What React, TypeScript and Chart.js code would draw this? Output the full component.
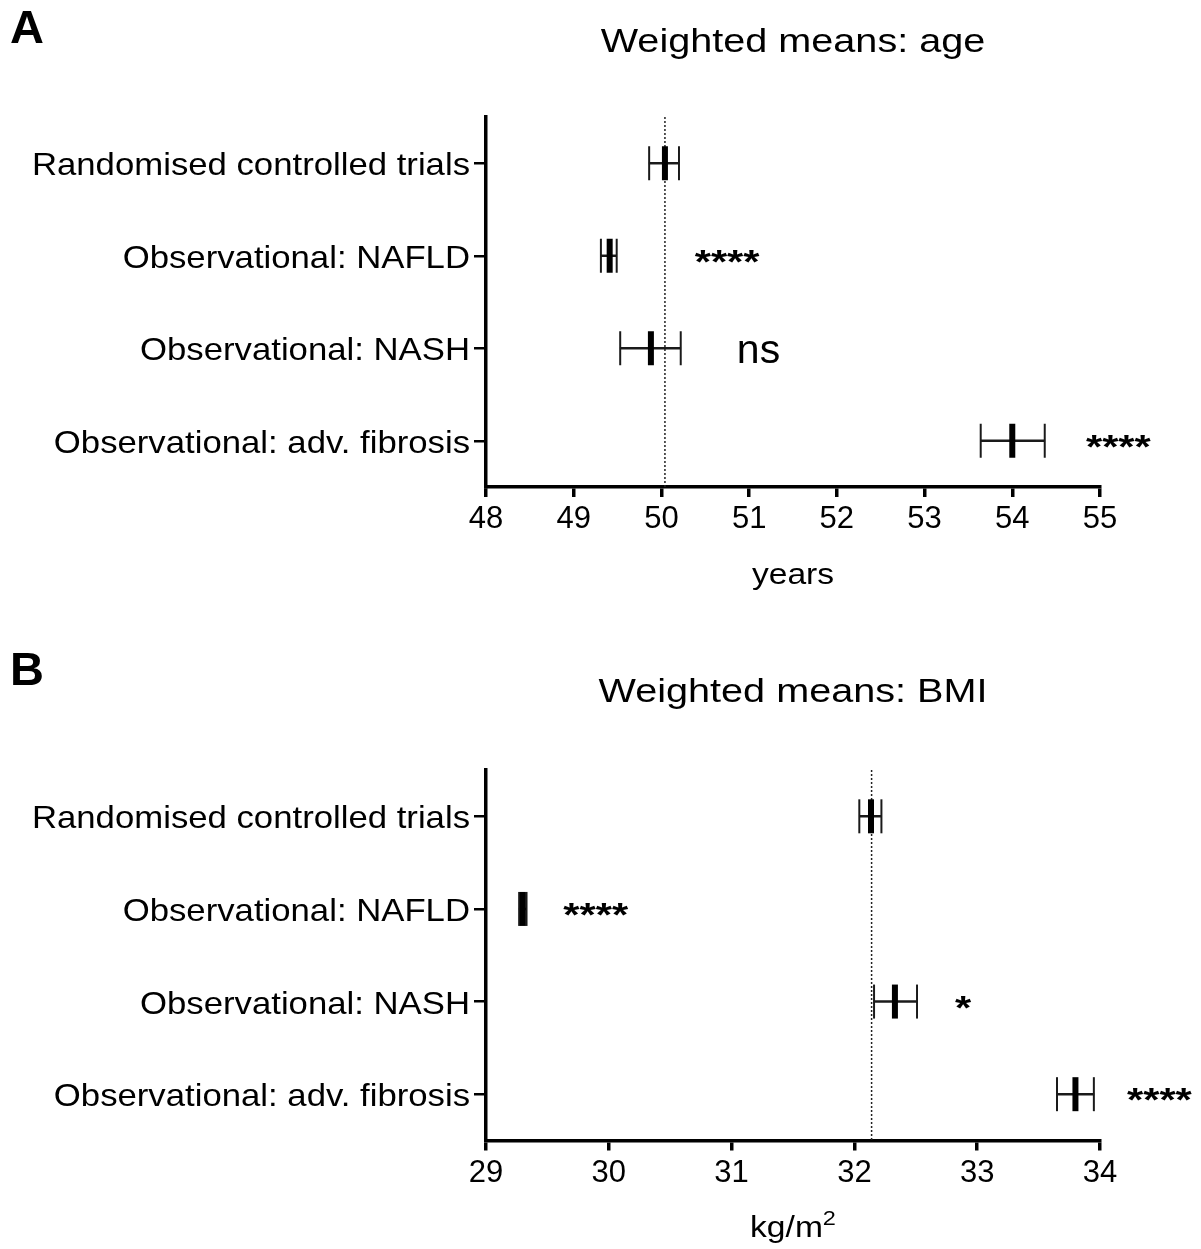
import { useEffect, useRef } from 'react';
import { Chart, registerables } from 'chart.js';

Chart.register(...registerables);

const FONT = '"Liberation Sans", Arial, Helvetica, sans-serif';

// Shared categories (top to bottom)
const categories = [
  'Randomised controlled trials',
  'Observational: NAFLD',
  'Observational: NASH',
  'Observational: adv. fibrosis',
];

// Panel A: age (years)
const ageMean = [50.04, 49.41, 49.88, 54.0];
const ageLow = [49.86, 49.31, 49.53, 53.64];
const ageHigh = [50.2, 49.49, 50.22, 54.37];
const ageReference = 50.04;
const ageSignif = ['', '****', 'ns', '****'];
const ageSignifAt = [0, 50.38, 50.86, 54.84];
const ageTicks = [48, 49, 50, 51, 52, 53, 54, 55];

// Panel B: BMI (kg/m2)
const bmiMean = [32.135, 29.3, 32.33, 33.8];
const bmiLow = [32.04, 29.27, 32.16, 33.65];
const bmiHigh = [32.22, 29.33, 32.51, 33.95];
const bmiReference = 32.14;
const bmiSignif = ['', '****', '*', '****'];
const bmiSignifAt = [0, 29.63, 32.82, 34.22];
const bmiTicks = [29, 30, 31, 32, 33, 34];

type Panel = {
  letter: string;
  title: string;
  axisTitle: string;
  axisSup: string;
  mean: number[];
  low: number[];
  high: number[];
  reference: number;
  signif: string[];
  signifAt: number[];
  ticks: number[];
  height: number;
  padTop: number;
  xBox: number;
  titleBase: number;
  letterBase: number;
  axisTitleBase: number;
};

const panels: Panel[] = [
  {
    letter: 'A',
    title: 'Weighted means: age',
    axisTitle: 'years',
    axisSup: '',
    mean: ageMean,
    low: ageLow,
    high: ageHigh,
    reference: ageReference,
    signif: ageSignif,
    signifAt: ageSignifAt,
    ticks: ageTicks,
    height: 620,
    padTop: 117,
    xBox: 133,
    titleBase: 52,
    letterBase: 43,
    axisTitleBase: 584,
  },
  {
    letter: 'B',
    title: 'Weighted means: BMI',
    axisTitle: 'kg/m',
    axisSup: '2',
    mean: bmiMean,
    low: bmiLow,
    high: bmiHigh,
    reference: bmiReference,
    signif: bmiSignif,
    signifAt: bmiSignifAt,
    ticks: bmiTicks,
    height: 629,
    padTop: 150,
    xBox: 108.5,
    titleBase: 82,
    letterBase: 65,
    axisTitleBase: 617,
  },
];

function stretched(
  ctx: CanvasRenderingContext2D,
  text: string,
  x: number,
  y: number,
  font: string,
  sx: number,
  align: CanvasTextAlign,
) {
  ctx.save();
  ctx.translate(x, y);
  ctx.scale(sx, 1);
  ctx.font = font;
  ctx.textAlign = align;
  ctx.textBaseline = 'alphabetic';
  ctx.fillText(text, 0, 0);
  ctx.restore();
}

function buildChart(canvas: HTMLCanvasElement, p: Panel) {
  const deco = {
    id: 'deco',
    beforeDatasetsDraw(chart: any) {
      const { ctx, chartArea, scales } = chart;
      const x = scales.x.getPixelForValue(p.reference);
      ctx.save();
      ctx.strokeStyle = '#222';
      ctx.lineWidth = 1.5;
      ctx.setLineDash([2, 2]);
      ctx.beginPath();
      ctx.moveTo(x, chartArea.top);
      ctx.lineTo(x, chartArea.bottom);
      ctx.stroke();
      ctx.restore();
    },
    afterDraw(chart: any) {
      const { ctx, chartArea, scales } = chart;
      const xs = scales.x;
      const ys = scales.y;
      ctx.save();
      ctx.fillStyle = '#000';
      // panel letter
      ctx.font = `bold 47px ${FONT}`;
      ctx.textAlign = 'left';
      ctx.textBaseline = 'alphabetic';
      ctx.fillText(p.letter, 10, p.letterBase);
      // title
      const cx = (chartArea.left + chartArea.right) / 2;
      stretched(ctx, p.title, cx, p.titleBase, `34px ${FONT}`, 1.165, 'center');
      // category labels
      categories.forEach((c, i) => {
        const y = ys.getPixelForValue(i);
        stretched(ctx, c, ys.right - 16, y + 12, `32px ${FONT}`, 1.085, 'right');
      });
      // significance labels
      p.signif.forEach((s, i) => {
        if (!s) return;
        const x = xs.getPixelForValue(p.signifAt[i]);
        const y = ys.getPixelForValue(i);
        if (s === 'ns') {
          stretched(ctx, s, x, y + 15, `41px ${FONT}`, 1.0, 'left');
        } else {
          stretched(ctx, s, x, y + 17, `bold 33px ${FONT}`, 1.26, 'left');
        }
      });
      // axis title
      const sx = 1.12;
      ctx.font = `30px ${FONT}`;
      const wMain = ctx.measureText(p.axisTitle).width * sx;
      ctx.font = `21px ${FONT}`;
      const wSup = p.axisSup ? ctx.measureText(p.axisSup).width * sx : 0;
      const start = cx - (wMain + wSup) / 2;
      stretched(ctx, p.axisTitle, start, p.axisTitleBase, `30px ${FONT}`, sx, 'left');
      if (p.axisSup) {
        stretched(ctx, p.axisSup, start + wMain, p.axisTitleBase - 12, `21px ${FONT}`, sx, 'left');
      }
      ctx.restore();
    },
  };

  const pts = (vals: number[]) => vals.map((v, i) => ({ x: v, y: categories[i] as any }));

  return new Chart(canvas, {
    type: 'bar',
    data: {
      labels: categories,
      datasets: [
        {
          type: 'scatter',
          data: pts(p.mean),
          pointStyle: 'line',
          rotation: 90,
          radius: 17,
          borderWidth: 6,
          borderColor: '#000',
          backgroundColor: '#000',
          clip: false,
        } as any,
        {
          type: 'scatter',
          data: pts(p.low),
          pointStyle: 'line',
          rotation: 90,
          radius: 17,
          borderWidth: 2,
          borderColor: '#1a1a1a',
          backgroundColor: '#1a1a1a',
          clip: false,
        } as any,
        {
          type: 'scatter',
          data: pts(p.high),
          pointStyle: 'line',
          rotation: 90,
          radius: 17,
          borderWidth: 2,
          borderColor: '#1a1a1a',
          backgroundColor: '#1a1a1a',
          clip: false,
        } as any,
        {
          type: 'bar',
          data: p.low.map((l, i) => [l, p.high[i]]),
          backgroundColor: '#1a1a1a',
          borderWidth: 0,
          barThickness: 1.8,
        } as any,
      ],
    },
    options: {
      indexAxis: 'y',
      animation: false,
      responsive: false,
      events: [],
      layout: { padding: { left: 0, right: 101, top: p.padTop, bottom: 0 } },
      plugins: {
        legend: { display: false },
        tooltip: { enabled: false },
        title: { display: false },
      },
      scales: {
        x: {
          type: 'linear',
          min: p.ticks[0],
          max: p.ticks[p.ticks.length - 1],
          afterFit: (s: any) => {
            s.height = p.xBox;
          },
          ticks: {
            stepSize: 1,
            color: '#000',
            padding: 4,
            font: { family: FONT, size: 31 },
          },
          grid: {
            drawOnChartArea: false,
            drawTicks: true,
            tickLength: 10,
            lineWidth: 3.5,
            color: '#000',
          },
          border: { display: true, width: 3.5, color: '#000' },
        },
        y: {
          type: 'category',
          offset: true,
          afterFit: (s: any) => {
            s.width = 486;
          },
          ticks: { display: false },
          grid: {
            offset: false,
            drawOnChartArea: false,
            drawTicks: true,
            tickLength: 12,
            lineWidth: 2.5,
            color: '#000',
          },
          border: { display: true, width: 3.5, color: '#000' },
        },
      },
    } as any,
    plugins: [deco],
  });
}

function PanelChart({ p }: { p: Panel }) {
  const ref = useRef<HTMLCanvasElement | null>(null);
  useEffect(() => {
    if (!ref.current) return;
    const chart = buildChart(ref.current, p);
    return () => chart.destroy();
  }, [p]);
  return (
    <div style={{ width: 1201, height: p.height, position: 'relative' }}>
      <canvas ref={ref} width={1201} height={p.height} style={{ display: 'block' }} />
    </div>
  );
}

export default function App() {
  return (
    <div
      style={{
        position: 'absolute',
        left: 0,
        top: 0,
        width: 1201,
        height: 1249,
        background: '#fff',
        overflow: 'hidden',
      }}
    >
      {panels.map((p) => (
        <PanelChart key={p.letter} p={p} />
      ))}
    </div>
  );
}
